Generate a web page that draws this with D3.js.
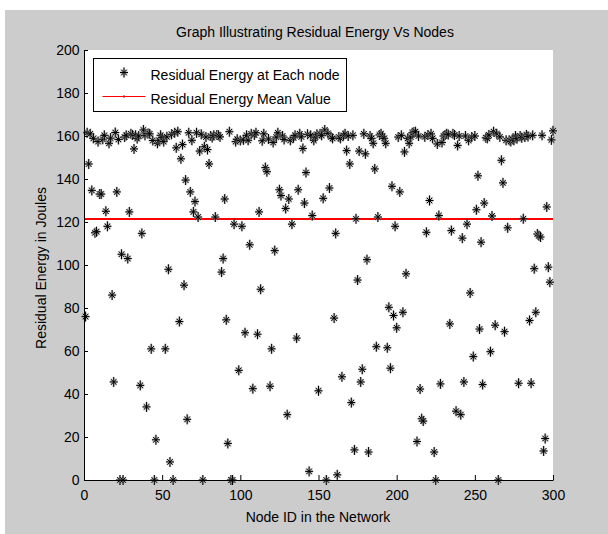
<!DOCTYPE html>
<html>
<head>
<meta charset="utf-8">
<script src="https://cdn.jsdelivr.net/npm/d3@7/dist/d3.min.js"></script>
<style>
  body { margin: 0; background: #ffffff; }
  text { font-family: "Liberation Sans", Arial, Helvetica, sans-serif; fill: #000; }
</style>
</head>
<body>
<svg id="chart" width="608" height="534"></svg>
<script>
// Residual energy (Joules) left at each node, nodes 1..300
const energy = [
  76, 161.5, 147, 161, 134.7, 158.9, 115, 115.5, 157.4, 133,
  133, 158.5, 160.3, 125, 118, 156.6, 159, 86, 45.6, 161.6,
  134, 158.4, 0, 105, 0, 159.5, 160.3, 103, 124.7, 161,
  160.5, 154, 160.3, 158.8, 160, 44, 114.7, 162.8, 160.3, 34,
  161.2, 161, 61, 157.9, 0, 18.7, 156.6, 158, 160.3, 159.2,
  157.4, 61, 159.6, 98, 8.4, 160.8, 0, 161.5, 154.5, 162,
  73.7, 149.4, 156, 90.6, 139.5, 28.2, 161.5, 134, 158, 124.7,
  129.5, 161.5, 122.3, 153, 160.8, 0, 155, 159.5, 153.7, 147,
  160, 159.3, 160.3, 122.3, 160.5, 160.3, 159.6, 96.7, 103, 130.7,
  74.5, 17, 162, 0, 0, 119, 157.4, 158.5, 51, 157.9,
  118, 158.2, 68.5, 160.3, 158, 109.4, 161, 42.5, 160.5, 161.5,
  67.8, 124.7, 88.7, 157.8, 161, 145.3, 143.4, 158.6, 43.6, 61,
  157, 106.7, 159.5, 161.5, 135, 132.3, 160, 158.4, 126.3, 30.4,
  130.7, 158, 119, 159.2, 160.3, 66, 135, 161, 159.6, 154.2,
  128.8, 143, 160.8, 4, 160.3, 123, 158, 159.5, 160.8, 41.5,
  161, 160.3, 131, 162.8, 0, 161.2, 135.8, 159.6, 158.9, 75.3,
  114.7, 2.4, 159.5, 158.9, 48, 160.2, 161, 153.2, 160, 147,
  36, 160.3, 14, 121.5, 93, 153, 45.6, 51.5, 161, 151.7,
  102.5, 13, 160, 158.9, 156.6, 144.7, 62, 122.3, 160.5, 161,
  159.8, 158.9, 156.6, 61.5, 80.3, 52, 136.6, 76.5, 118, 70.8,
  159.5, 134, 160.3, 78, 152.6, 95.9, 158.9, 156.6, 159.5, 161.5,
  161.8, 162, 17.9, 160, 42.3, 28.5, 27.4, 159.6, 115.2, 160.5,
  130, 161, 158.9, 13, 0, 156.3, 123, 44.7, 157, 160,
  160.5, 161, 160.7, 72.6, 116, 161, 160.5, 32, 155.6, 160,
  30.4, 112.5, 45.6, 160, 119, 158, 87, 159.5, 57.4, 160,
  125.7, 141.5, 70.2, 110.6, 44.4, 128.8, 159.2, 158.9, 160.5, 59.7,
  122.8, 162, 72, 161, 0, 159.6, 148.7, 138.2, 69, 158,
  117.3, 158, 157.5, 158.5, 158, 160, 158.8, 45, 160, 159.2,
  121.5, 159.5, 160.5, 159.8, 74.2, 45, 160.3, 98.3, 78, 114.4,
  113.6, 113, 160.3, 13.5, 19.3, 127, 99, 92, 158.2, 162.4
];
const nodeIds = d3.range(1, energy.length + 1);
const meanEnergy = 121.4;

const xTicks = [0, 50, 100, 150, 200, 250, 300];
const yTicks = [0, 20, 40, 60, 80, 100, 120, 140, 160, 180, 200];

const titleText = "Graph Illustrating Residual Energy Vs Nodes";
const xLabelText = "Node ID in the Network";
const yLabelText = "Residual Energy in Joules";
const legendLabels = ["Residual Energy at Each node", "Residual Energy Mean Value"];

const svg = d3.select("#chart");

// figure background
svg.append("rect").attr("x", 5).attr("y", 10).attr("width", 603).attr("height", 524)
  .attr("fill", "#cccccc");

const x = d3.scaleLinear().domain([0, 300]).range([84, 553]);
const y = d3.scaleLinear().domain([0, 200]).range([480, 50]);

// axes area
svg.append("rect")
  .attr("x", x(0)).attr("y", y(200))
  .attr("width", x(300) - x(0)).attr("height", y(0) - y(200))
  .attr("fill", "#ffffff");

// asterisk marker: a plus with a shorter cross
function starPath(rv, rh, d) {
  return `M0,${-rv}V${rv}M${-rh},0H${rh}M${-d},${-d}L${d},${d}M${-d},${d}L${d},${-d}`;
}
const markerD = starPath(5, 4, 2.8);

function drawStar(sel) {
  sel.append("path").attr("d", markerD).attr("fill", "none")
    .attr("stroke", "#9a9a9a").attr("stroke-width", 2.2).attr("stroke-opacity", 0.6);
  sel.append("path").attr("d", markerD).attr("fill", "none")
    .attr("stroke", "#000").attr("stroke-width", 1);
}

// mean line
svg.append("line")
  .attr("x1", x(0)).attr("x2", x(300))
  .attr("y1", y(meanEnergy)).attr("y2", y(meanEnergy))
  .attr("stroke", "#ff0000").attr("stroke-width", 2);

// node markers
svg.append("g").selectAll("g")
  .data(nodeIds)
  .join("g")
  .attr("transform", i => `translate(${x(i)},${y(energy[i - 1])})`)
  .call(drawStar);

// axes
const gx = svg.append("g").attr("transform", `translate(0,${y(0)})`)
  .call(d3.axisBottom(x).tickValues(xTicks).tickSizeInner(-5).tickSizeOuter(0).tickPadding(10.5));
const gy = svg.append("g").attr("transform", `translate(${x(0)},0)`)
  .call(d3.axisLeft(y).tickValues(yTicks).tickSizeInner(-4).tickSizeOuter(0).tickPadding(4.5));
[gx, gy].forEach(g => {
  g.selectAll("text").attr("font-size", 14).attr("fill", "#000");
  g.selectAll("line,path").attr("stroke", "#000");
  g.attr("font-family", null);
});

// title and axis labels
svg.append("text").attr("x", 315).attr("y", 37).attr("text-anchor", "middle")
  .attr("font-size", 14).text(titleText);
svg.append("text").attr("x", 318).attr("y", 522).attr("text-anchor", "middle")
  .attr("font-size", 14).text(xLabelText);
svg.append("text").attr("transform", "translate(46,268) rotate(-90)")
  .attr("text-anchor", "middle").attr("font-size", 14).text(yLabelText);

// legend
const lg = svg.append("g");
lg.append("rect").attr("x", 93.5).attr("y", 58.5).attr("width", 253).attr("height", 53)
  .attr("fill", "#fff").attr("stroke", "#000").attr("stroke-width", 1);
lg.append("g").attr("transform", "translate(124,72.5)").call(drawStar);
lg.append("line").attr("x1", 102.5).attr("x2", 145.5).attr("y1", 96.5).attr("y2", 96.5)
  .attr("stroke", "#ff0000").attr("stroke-width", 1);
lg.append("rect").attr("x", 123).attr("y", 95.5).attr("width", 2).attr("height", 2)
  .attr("fill", "#ff0000");
lg.selectAll("text.lbl").data(legendLabels).join("text")
  .attr("class", "lbl")
  .attr("x", 150.5).attr("y", (d, i) => 79.5 + i * 24)
  .attr("font-size", 14).text(d => d);
</script>
</body>
</html>
